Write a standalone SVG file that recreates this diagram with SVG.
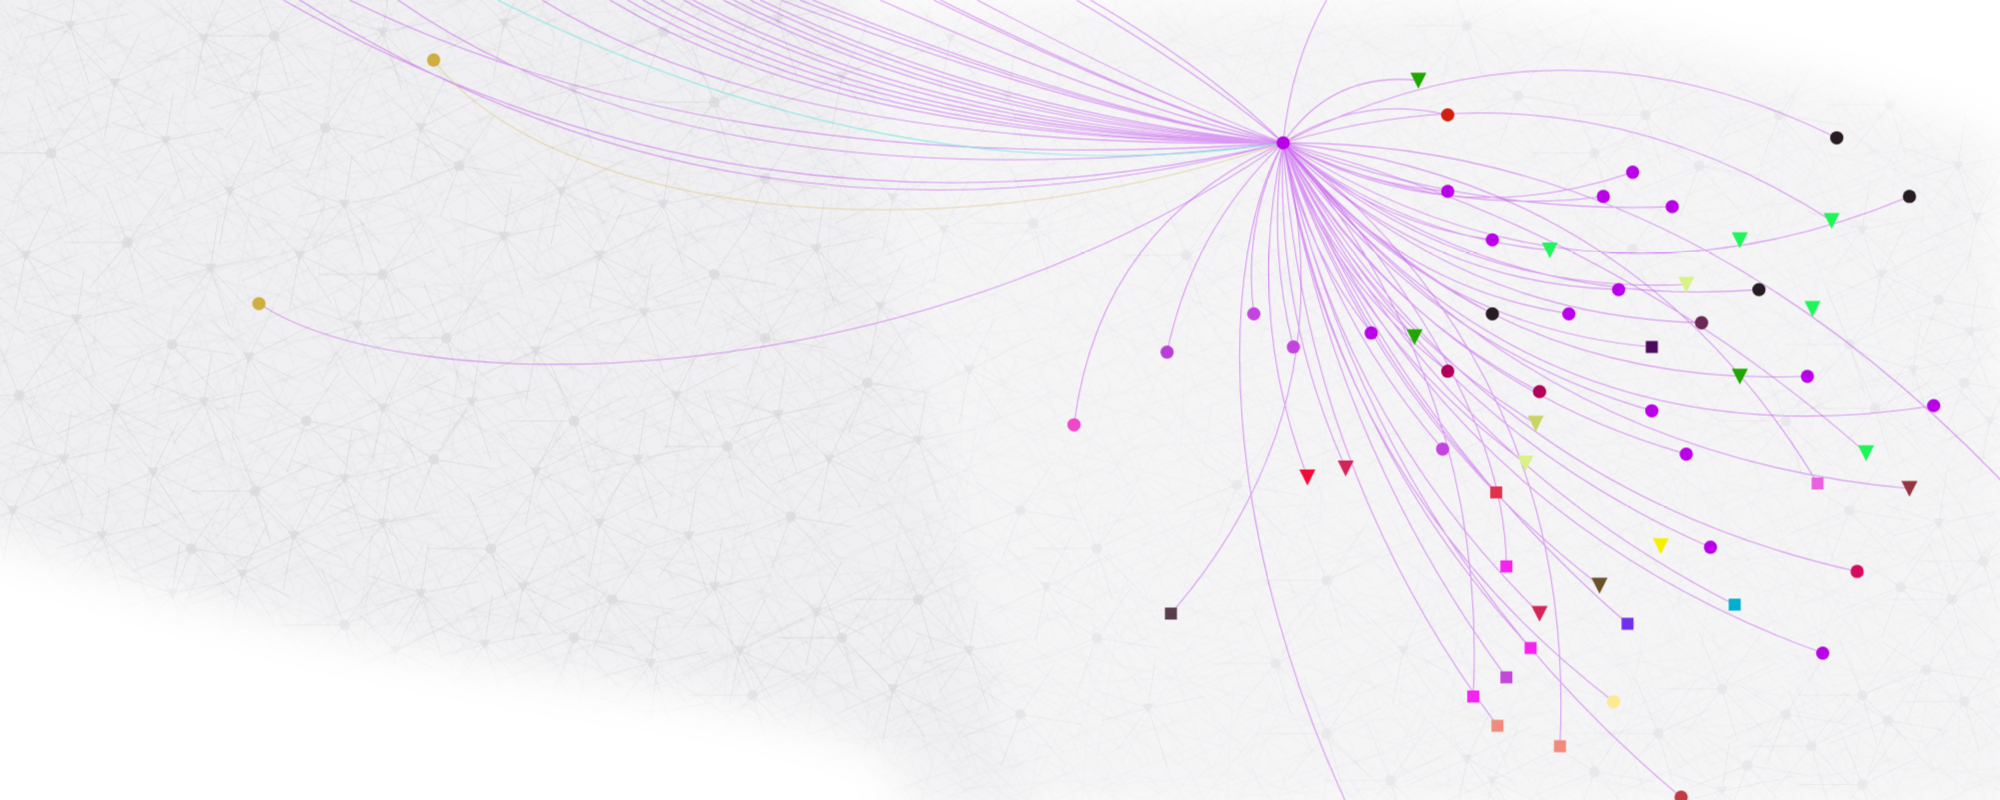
<svg xmlns="http://www.w3.org/2000/svg" xmlns:xlink="http://www.w3.org/1999/xlink" width="2000" height="800" viewBox="0 0 2000 800">
<style>
.e{fill:none;stroke:#c040f0;stroke-opacity:.5;stroke-width:.85}
.sl{fill:none;stroke:#a6a6b0;stroke-width:.35;stroke-opacity:.45}
.sn{fill:#d9d9df;fill-opacity:.75}
.mp{fill:none;stroke:#b2b2bc;stroke-width:.3;stroke-opacity:.3}
</style>
<defs>
<filter id="blur" x="-0.1" y="-0.1" width="1.2" height="1.2"><feGaussianBlur stdDeviation="18"/></filter>
<pattern id="mesh1" width="140" height="100" patternUnits="userSpaceOnUse">
<path class="mp" d="M0 12L140 47M0 78L140 22M22 0L61 100M97 0L38 100M0 55L140 90M0 33L86 100M45 0L140 66M118 0L140 18M0 92L31 0M70 0L140 100M0 0L55 100M140 5L0 63M112 100L140 40M0 20L60 0M80 100L140 75"/>
</pattern>
<pattern id="mesh2" width="190" height="150" patternUnits="userSpaceOnUse" patternTransform="rotate(27)">
<path class="mp" d="M0 30L190 80M0 120L190 10M40 0L90 150M150 0L20 150M0 90L120 150M60 0L190 130M0 5L190 140M170 150L190 60M0 60L100 0M110 150L190 100"/>
</pattern>
<pattern id="mesh3" width="230" height="170" patternUnits="userSpaceOnUse" patternTransform="rotate(-38)">
<path class="mp" d="M0 40L230 100M0 150L230 30M70 0L120 170M200 0L50 170M0 100L160 170M90 0L230 150"/>
</pattern>
<pattern id="mesh4" width="37" height="29" patternUnits="userSpaceOnUse" patternTransform="rotate(12)">
<path class="mp" d="M0 6L37 20M0 25L37 3M9 0L26 29M31 0L4 29"/>
</pattern>
<mask id="bgm" maskUnits="userSpaceOnUse" x="-100" y="-100" width="1800" height="850">
<path d="M640 0L1150 0C1300 25 1450 65 1568 110L1600 640L700 640C720 500 700 300 640 0Z" fill="#a8a8a8" filter="url(#blur)"/>
<path d="M-40 -40L660 -40C700 250 760 450 800 640L790 640C720 590 600 555 500 540C350 520 150 480 -40 410Z" fill="#fff" filter="url(#blur)"/>
</mask>
<g id="ta"><path class="sl" d="M0 0L-42 -14M0 0L-24 33M0 0L28 30M0 0L45 -9M0 0L6 -38M0 0L-36 10M0 0L15 46"/><path class="sn" d="M-4.5 -3.5H4.5L0 4.5Z"/></g>
<g id="tb"><path class="sl" d="M0 0L-30 -30M0 0L38 18M0 0L-45 20M0 0L20 -40M0 0L50 -25M0 0L-8 42M0 0L25 38"/><path class="sn" d="M-4.5 -3.5H4.5L0 4.5Z"/></g>
<g id="ca"><path class="sl" d="M0 0L-50 0M0 0L35 35M0 0L-18 -44M0 0L42 -20M0 0L-30 36M0 0L12 40M0 0L30 -42"/><circle class="sn" r="4.2"/></g>
<g id="cb"><path class="sl" d="M0 0L-35 -22M0 0L48 8M0 0L-15 40M0 0L26 -38M0 0L-46 18M0 0L36 40"/><circle class="sn" r="4.2"/></g>
<circle id="c" r="5.2"/>
<rect id="s" x="-4.7" y="-4.7" width="9.4" height="9.4"/>
<path id="t" d="M-6.3 -6H6.3L0 6.5Z"/>
</defs>
<rect width="2000" height="800" fill="#fff"/>
<g transform="scale(1.27551)">
<g id="background" mask="url(#bgm)">
<rect x="-10" y="-10" width="1600" height="660" fill="#f0f0f2"/>
<rect x="-10" y="-10" width="1600" height="660" fill="url(#mesh4)"/>
<rect x="-10" y="-10" width="1600" height="660" fill="url(#mesh1)"/>
<rect x="-10" y="-10" width="1600" height="660" fill="url(#mesh2)"/>
<rect x="-10" y="-10" width="1600" height="660" fill="url(#mesh3)"/>
<use href="#ta" x="55" y="20"/><use href="#tb" x="160" y="30"/><use href="#ca" x="215" y="28"/><use href="#ta" x="300" y="25"/><use href="#tb" x="395" y="18"/><use href="#cb" x="520" y="25"/><use href="#ta" x="610" y="15"/><use href="#tb" x="745" y="30"/><use href="#ca" x="1150" y="20"/><use href="#cb" x="1250" y="8"/>
<use href="#tb" x="90" y="65"/><use href="#ta" x="200" y="75"/><use href="#cb" x="255" y="100"/><use href="#tb" x="330" y="100"/><use href="#ta" x="450" y="70"/><use href="#ca" x="560" y="80"/><use href="#tb" x="660" y="60"/><use href="#ta" x="790" y="75"/><use href="#cb" x="1190" y="75"/><use href="#ca" x="1290" y="90"/><use href="#cb" x="1395" y="90"/><use href="#ca" x="1482" y="82"/>
<use href="#ca" x="40" y="120"/><use href="#ta" x="130" y="110"/><use href="#tb" x="180" y="150"/><use href="#ta" x="270" y="160"/><use href="#cb" x="360" y="130"/><use href="#tb" x="440" y="150"/><use href="#ta" x="520" y="160"/><use href="#cb" x="600" y="140"/><use href="#tb" x="700" y="155"/><use href="#ca" x="1250" y="120"/><use href="#cb" x="1332" y="130"/><use href="#ta" x="1535" y="130"/>
<use href="#tb" x="20" y="200"/><use href="#ca" x="100" y="190"/><use href="#ta" x="165" y="210"/><use href="#tb" x="235" y="200"/><use href="#ca" x="300" y="215"/><use href="#ta" x="395" y="185"/><use href="#tb" x="470" y="200"/><use href="#cb" x="560" y="215"/><use href="#ta" x="640" y="195"/><use href="#tb" x="740" y="180"/><use href="#ca" x="810" y="175"/><use href="#cb" x="1280" y="195"/><use href="#ta" x="1460" y="180"/><use href="#tb" x="1550" y="170"/>
<use href="#ta" x="60" y="250"/><use href="#cb" x="135" y="270"/><use href="#tb" x="195" y="280"/><use href="#ta" x="280" y="255"/><use href="#ca" x="350" y="265"/><use href="#tb" x="420" y="275"/><use href="#ta" x="505" y="245"/><use href="#cb" x="600" y="265"/><use href="#tb" x="690" y="240"/><use href="#ca" x="930" y="200"/><use href="#tb" x="1475" y="215"/><use href="#cb" x="1520" y="235"/><use href="#ta" x="1545" y="260"/>
<use href="#ca" x="15" y="310"/><use href="#tb" x="90" y="320"/><use href="#ta" x="160" y="315"/><use href="#cb" x="240" y="330"/><use href="#tb" x="300" y="320"/><use href="#ta" x="370" y="315"/><use href="#ca" x="450" y="330"/><use href="#tb" x="530" y="310"/><use href="#ta" x="610" y="325"/><use href="#cb" x="680" y="300"/><use href="#tb" x="760" y="290"/><use href="#ca" x="1450" y="270"/><use href="#ta" x="1500" y="290"/><use href="#cb" x="1540" y="300"/>
<use href="#ta" x="50" y="360"/><use href="#tb" x="120" y="370"/><use href="#ca" x="200" y="385"/><use href="#ta" x="270" y="375"/><use href="#cb" x="340" y="360"/><use href="#tb" x="420" y="370"/><use href="#ta" x="500" y="360"/><use href="#ca" x="570" y="350"/><use href="#tb" x="650" y="360"/><use href="#ta" x="720" y="345"/><use href="#cb" x="800" y="400"/><use href="#ca" x="1470" y="320"/><use href="#tb" x="1560" y="330"/>
<use href="#tb" x="10" y="400"/><use href="#ta" x="80" y="420"/><use href="#cb" x="150" y="430"/><use href="#tb" x="230" y="420"/><use href="#ta" x="300" y="410"/><use href="#ca" x="385" y="430"/><use href="#tb" x="470" y="410"/><use href="#ta" x="540" y="420"/><use href="#cb" x="620" y="405"/><use href="#ca" x="860" y="430"/><use href="#ca" x="1400" y="330"/><use href="#cb" x="1450" y="400"/><use href="#ta" x="1520" y="410"/><use href="#ca" x="1555" y="440"/>
<use href="#ta" x="135" y="465"/><use href="#tb" x="190" y="450"/><use href="#ca" x="270" y="490"/><use href="#ta" x="330" y="465"/><use href="#tb" x="410" y="460"/><use href="#cb" x="480" y="470"/><use href="#ta" x="560" y="460"/><use href="#tb" x="640" y="480"/><use href="#ca" x="720" y="470"/><use href="#tb" x="820" y="460"/><use href="#cb" x="970" y="380"/><use href="#ca" x="1040" y="455"/><use href="#cb" x="1490" y="460"/><use href="#ca" x="1530" y="470"/>
<use href="#tb" x="310" y="510"/><use href="#ta" x="380" y="505"/><use href="#cb" x="450" y="500"/><use href="#ta" x="510" y="520"/><use href="#tb" x="580" y="510"/><use href="#ca" x="660" y="500"/><use href="#ta" x="760" y="510"/><use href="#cb" x="860" y="500"/><use href="#ca" x="1000" y="520"/><use href="#tb" x="1100" y="510"/><use href="#ca" x="1350" y="540"/><use href="#cb" x="1400" y="560"/><use href="#ca" x="1460" y="545"/><use href="#cb" x="1510" y="525"/>
<use href="#ta" x="510" y="560"/><use href="#ca" x="590" y="545"/><use href="#tb" x="700" y="540"/><use href="#cb" x="800" y="560"/><use href="#ta" x="900" y="555"/><use href="#ca" x="1040" y="575"/><use href="#tb" x="1150" y="595"/><use href="#ca" x="1300" y="575"/><use href="#cb" x="1370" y="600"/><use href="#ca" x="1420" y="585"/><use href="#cb" x="1480" y="565"/><use href="#ca" x="1540" y="550"/>
<use href="#ca" x="1090" y="612"/><use href="#tb" x="1170" y="612"/><use href="#cb" x="1250" y="605"/><use href="#ta" x="1350" y="620"/><use href="#ca" x="1460" y="615"/>
</g>
<g id="connectors">
<path class="e" d="M222 0Q593 210 1006 112M235 0Q586 223 1006 112M274 0Q567 143 1006 112M312 0Q549 166 1006 112"/>
<path class="e" d="M425 0Q615 118 1006 112M478 0Q665 112 1006 112M492 0Q680 110 1006 112M504 0Q692 106 1006 112M518 0Q705 104 1006 112M536 0Q722 102 1006 112M543 0Q730 98 1006 112M567 0Q752 96 1006 112M575 0Q762 94 1006 112M588 0Q775 92 1006 112M596 0Q785 90 1006 112"/>
<path class="e" d="M612 0Q839 86 1006 112M627 0Q846 86 1006 112M637 0Q851 86 1006 112M690 0Q878 84 1006 112M732 0Q899 82 1006 112M737 0Q901 82 1006 112M766 0Q916 78 1006 112M844 0Q945 60 1006 112M855 0Q950 56 1006 112"/>
<path d="M390 0Q706 157 1006 112" fill="none" stroke="#7fe6e2" stroke-opacity=".85" stroke-width=".85"/>
<path d="M340 47C423 157 706 212 1006 112" fill="none" stroke="#e0c98c" stroke-opacity=".7" stroke-width=".85"/>
<path class="e" d="M203 238C320 315 710 315 1006 112"/>
<path class="e" d="M1006 112Q1012 50 1040 0M1006 112Q1044 56 1112 63M1006 112Q1066 74 1135 90M1006 112Q1222 0 1440 108M1006 112Q1235 44 1436 173M1006 112Q1138 184 1280 135M1006 112Q1067 144 1135 150M1006 112Q1125 171 1257 154M1006 112Q1153 168 1311 162M1006 112Q1241 261 1497 154M1006 112Q1077 175 1170 188M1006 112Q1098 185 1215 196M1006 112Q1170 244 1379 227M1006 112Q1142 231 1322 223M1006 112Q1115 222 1269 227M1006 112Q1330 110 1600 410M1006 112Q1199 368 1516 318M1006 112Q1142 248 1334 253M1006 112Q1091 224 1230 246M1006 112Q1075 195 1170 246M1006 112Q1115 256 1295 272M1006 112Q1166 306 1417 295"/>
<path class="e" d="M1006 112Q974 176 983 246M1006 112Q935 180 915 276M1006 112Q994 193 1014 272M1006 112Q862 177 842 333M1006 112Q1058 319 918 481M1006 112C955 200 950 420 1070 660M1006 112Q976 246 1025 374M1006 112Q1000 245 1055 367"/>
<path class="e" d="M1006 112Q1023 195 1075 261M1006 112Q1039 200 1109 264M1006 112Q1044 221 1135 291M1006 112Q1077 239 1207 307M1006 112Q1113 269 1295 322M1006 112Q1072 252 1204 332M1006 112Q1040 247 1131 352M1006 112Q1063 266 1196 363M1006 112Q1115 297 1322 356M1006 112Q1192 356 1497 383M1006 112Q1282 141 1425 379M1006 112Q1264 179 1463 355M1006 112Q1155 381 1456 448M1006 112Q1116 331 1341 429M1006 112Q1122 353 1360 474M1006 112Q1129 404 1429 512M1006 112Q1096 333 1276 489M1006 112Q1075 422 1318 625M1006 112Q1048 383 1265 550M1006 112Q1062 266 1173 386M1006 112Q1180 300 1181 444M1006 112Q1051 327 1207 481M1006 112Q1044 339 1200 508M1006 112Q1043 343 1181 531M1006 112Q1167 299 1155 546M1006 112Q1022 366 1174 569M1006 112Q1237 292 1223 585M1006 112Q1078 323 1254 459"/>
</g>
<g id="nodes">
<g id="n1"><use href="#c" x="340" y="47" fill="#cfae41"/></g>
<g id="n2"><use href="#c" x="203" y="238" fill="#cfae41"/></g>
<g id="n3"><use href="#t" x="1112" y="63" fill="#20a600"/></g>
<g id="n4"><use href="#c" x="1135" y="90" fill="#d2200e"/></g>
<g id="n5"><use href="#c" x="1440" y="108" fill="#261c22"/></g>
<g id="n6"><use href="#c" x="1280" y="135" fill="#b900e8"/></g>
<g id="n7"><use href="#c" x="1135" y="150" fill="#b900e8"/></g>
<g id="n8"><use href="#c" x="1257" y="154" fill="#b900e8"/></g>
<g id="n9"><use href="#c" x="1311" y="162" fill="#b900e8"/></g>
<g id="n10"><use href="#c" x="1497" y="154" fill="#261c22"/></g>
<g id="n11"><use href="#c" x="1170" y="188" fill="#b900e8"/></g>
<g id="n12"><use href="#t" x="1215" y="196" fill="#1ef55a"/></g>
<g id="n13"><use href="#t" x="1364" y="188" fill="#1ef55a"/></g>
<g id="n14"><use href="#t" x="1436" y="173" fill="#1ef55a"/></g>
<g id="n15"><use href="#t" x="1322" y="223" fill="#d8f288"/></g>
<g id="n16"><use href="#c" x="1269" y="227" fill="#b900e8"/></g>
<g id="n17"><use href="#c" x="1379" y="227" fill="#261c22"/></g>
<g id="n18"><use href="#t" x="1421" y="242" fill="#1ef55a"/></g>
<g id="n19"><use href="#c" x="983" y="246" fill="#c444e0"/></g>
<g id="n20"><use href="#c" x="1170" y="246" fill="#261c22"/></g>
<g id="n21"><use href="#c" x="1230" y="246" fill="#b900e8"/></g>
<g id="n22"><use href="#c" x="1334" y="253" fill="#6b2a55"/></g>
<g id="n23"><use href="#c" x="1075" y="261" fill="#b900e8"/></g>
<g id="n24"><use href="#t" x="1109" y="264" fill="#20a600"/></g>
<g id="n25"><use href="#s" x="1295" y="272" fill="#4c0a5c"/></g>
<g id="n26"><use href="#c" x="915" y="276" fill="#b93ed8"/></g>
<g id="n27"><use href="#c" x="1014" y="272" fill="#c444e0"/></g>
<g id="n28"><use href="#c" x="1135" y="291" fill="#b0005c"/></g>
<g id="n29"><use href="#t" x="1364" y="295" fill="#20a600"/></g>
<g id="n30"><use href="#c" x="1417" y="295" fill="#b900e8"/></g>
<g id="n31"><use href="#c" x="1207" y="307" fill="#b0005c"/></g>
<g id="n32"><use href="#c" x="1295" y="322" fill="#b900e8"/></g>
<g id="n33"><use href="#c" x="1516" y="318" fill="#b900e8"/></g>
<g id="n34"><use href="#c" x="842" y="333" fill="#f048c8"/></g>
<g id="n35"><use href="#t" x="1204" y="332" fill="#cbd462"/></g>
<g id="n36"><use href="#c" x="1131" y="352" fill="#c444e0"/></g>
<g id="n37"><use href="#t" x="1196" y="363" fill="#d8f288"/></g>
<g id="n38"><use href="#c" x="1322" y="356" fill="#b900e8"/></g>
<g id="n39"><use href="#t" x="1463" y="355" fill="#1ef55a"/></g>
<g id="n40"><use href="#t" x="1025" y="374" fill="#f50a35"/></g>
<g id="n41"><use href="#t" x="1055" y="367" fill="#d42458"/></g>
<g id="n42"><use href="#s" x="1173" y="386" fill="#e2304f"/></g>
<g id="n43"><use href="#s" x="1425" y="379" fill="#ea60e0"/></g>
<g id="n44"><use href="#t" x="1497" y="383" fill="#963540"/></g>
<g id="n45"><use href="#t" x="1302" y="428" fill="#f5f000"/></g>
<g id="n46"><use href="#c" x="1341" y="429" fill="#b900e8"/></g>
<g id="n47"><use href="#s" x="1181" y="444" fill="#f622f0"/></g>
<g id="n48"><use href="#c" x="1456" y="448" fill="#d60b5f"/></g>
<g id="n49"><use href="#t" x="1254" y="459" fill="#6b5226"/></g>
<g id="n50"><use href="#s" x="1360" y="474" fill="#00aed0"/></g>
<g id="n51"><use href="#s" x="918" y="481" fill="#5a3d4c"/></g>
<g id="n52"><use href="#t" x="1207" y="481" fill="#d42458"/></g>
<g id="n53"><use href="#s" x="1276" y="489" fill="#7030ee"/></g>
<g id="n54"><use href="#c" x="1429" y="512" fill="#b900e8"/></g>
<g id="n55"><use href="#s" x="1200" y="508" fill="#f622f0"/></g>
<g id="n56"><use href="#s" x="1181" y="531" fill="#c447dc"/></g>
<g id="n57"><use href="#c" x="1265" y="550" fill="#faea90"/></g>
<g id="n58"><use href="#s" x="1155" y="546" fill="#f622f0"/></g>
<g id="n59"><use href="#s" x="1174" y="569" fill="#f08a7a"/></g>
<g id="n60"><use href="#s" x="1223" y="585" fill="#f08a7a"/></g>
<g id="n61"><use href="#c" x="1318" y="625" fill="#c23a42"/></g>
<g id="n0"><use href="#c" x="1006" y="112" fill="#b700e8"/></g>
</g>
</g>
</svg>
